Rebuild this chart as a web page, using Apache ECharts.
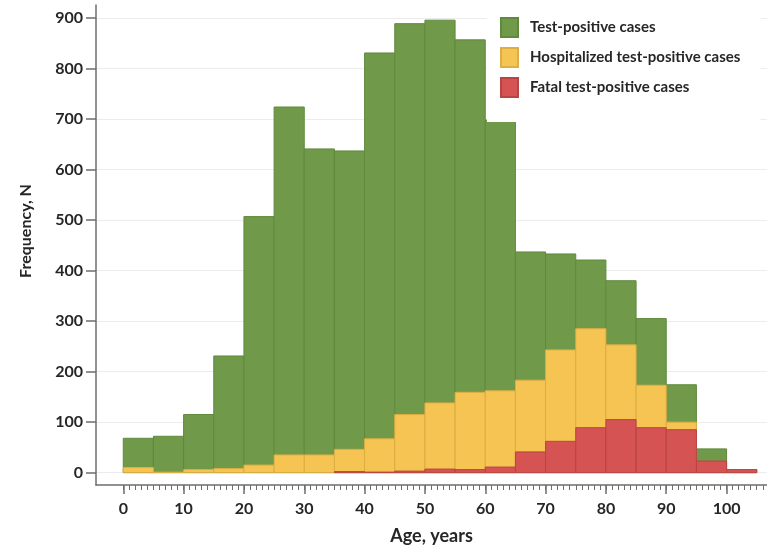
<!DOCTYPE html>
<html>
<head>
<meta charset="utf-8">
<script src="https://cdn.jsdelivr.net/npm/echarts@6/dist/echarts.min.js"></script>
<style>
	html, body { margin: 0; padding: 0; background: #fff; }
	#chart { width: 767px; height: 550px; }
</style>
</head>
<body>
<div id="chart"></div>
<script>
// 5-year age bins, [start, end)
const binStart = [ 0, 5, 10, 15, 20, 25, 30, 35, 40, 45, 50, 55, 60, 65, 70, 75, 80, 85, 90, 95, 100 ];
const binEnd = [ 5, 10, 15, 20, 25, 30, 35, 40, 45, 50, 55, 60, 65, 70, 75, 80, 85, 90, 95, 100, 105 ];

const testPositive = [ 68, 72, 115, 231, 507, 724, 641, 637, 831, 889, 896, 857, 698, 437, 433, 421, 380, 305, 174, 47, 6 ];
const hospitalized = [ 10, 1, 6, 8, 15, 35, 35, 46, 67, 115, 138, 159, 162, 183, 243, 285, 253, 173, 100, 22, 6 ];
const fatal = [ 0, 0, 0, 0, 0, 0, 0, 2, 1, 3, 7, 6, 11, 41, 62, 89, 105, 89, 85, 23, 6 ];

const xTicks = [ 0, 10, 20, 30, 40, 50, 60, 70, 80, 90, 100 ];
const yTicks = [ 0, 100, 200, 300, 400, 500, 600, 700, 800, 900 ];

const FONT = 'Lato, "Open Sans", sans-serif';
const AXIS_COLOR = '#6e6e6e';
const X_MIN = -4.52;
const X_MAX = 106.7;

// minor ticks every year along the age axis
const minorTicks = [];
for ( let a = 0; a <= 106; a++ ) {
	minorTicks.push( a );
}

const toRows = ( values ) => values.map( ( v, i ) => [ binStart[ i ], binEnd[ i ], v ] );

const renderBin = ( params, api ) => {
	// empty bins draw nothing (no stray outline on the baseline)
	if ( !api.value( 2 ) ) {
		return null;
	}
	const top = api.coord( [ api.value( 0 ), api.value( 2 ) ] );
	const bottom = api.coord( [ api.value( 1 ), 0 ] );
	return {
		type: 'rect',
		shape: {
			x: top[ 0 ],
			y: top[ 1 ],
			width: bottom[ 0 ] - top[ 0 ],
			height: bottom[ 1 ] - top[ 1 ]
		},
		style: api.style()
	};
};

const histSeries = ( name, values, color, border ) => ( {
	name,
	type: 'custom',
	renderItem: renderBin,
	encode: { x: [ 0, 1 ], y: 2 },
	itemStyle: { color, borderColor: border, borderWidth: 1 },
	data: toRows( values )
} );

const chart = echarts.init( document.getElementById( 'chart' ), null, { renderer: 'canvas' } );

chart.setOption( {
	animation: false,
	textStyle: { fontFamily: FONT },
	grid: { left: 96, right: 0, top: 5, bottom: 63, containLabel: false },
	legend: {
		orient: 'vertical',
		left: 487,
		top: 7,
		padding: [ 10, 20, 24, 13 ],
		backgroundColor: '#fff',
		itemWidth: 17,
		itemHeight: 19,
		itemGap: 9,
		icon: 'rect',
		textStyle: { fontFamily: FONT, fontSize: 15, fontWeight: 'bold', color: '#262626', padding: [ 0, 0, 0, 7 ] },
		data: [ 'Test-positive cases', 'Hospitalized test-positive cases', 'Fatal test-positive cases' ]
	},
	xAxis: [
		{
			type: 'value',
			position: 'bottom',
			min: X_MIN,
			max: X_MAX,
			name: 'Age, years',
			nameLocation: 'middle',
			nameGap: 42,
			nameTextStyle: { fontFamily: FONT, fontSize: 18, fontWeight: 'bold', color: '#262626' },
			axisLine: { show: true, onZero: false, lineStyle: { color: AXIS_COLOR, width: 1.5 } },
			axisTick: { show: true, length: 9, customValues: xTicks, lineStyle: { color: AXIS_COLOR, width: 1.5 } },
			axisLabel: {
				customValues: xTicks,
				margin: 16,
				fontFamily: FONT,
				fontSize: 16,
				fontWeight: 'bold',
				color: '#262626'
			},
			splitLine: { show: false }
		},
		{
			type: 'value',
			position: 'bottom',
			min: X_MIN,
			max: X_MAX,
			axisLine: { show: false, onZero: false },
			axisTick: { show: true, length: 5, customValues: minorTicks, lineStyle: { color: AXIS_COLOR, width: 1 } },
			axisLabel: { show: false },
			splitLine: { show: false }
		}
	],
	yAxis: {
		type: 'value',
		min: -24.5,
		max: 926,
		name: 'Frequency, N',
		nameLocation: 'middle',
		nameGap: 62,
		nameTextStyle: { fontFamily: FONT, fontSize: 16, fontWeight: 'bold', color: '#262626', padding: [ 0, 0, 0, 28 ] },
		axisLine: { show: true, onZero: false, lineStyle: { color: AXIS_COLOR, width: 1.5 } },
		axisTick: { show: true, length: 10, customValues: yTicks, lineStyle: { color: AXIS_COLOR, width: 1.5 } },
		axisLabel: {
			customValues: yTicks,
			margin: 13,
			fontFamily: FONT,
			fontSize: 16,
			fontWeight: 'bold',
			color: '#262626'
		},
		splitLine: { show: true, lineStyle: { color: '#ececec', width: 1 } }
	},
	series: [
		histSeries( 'Test-positive cases', testPositive, '#71994a', '#5f8a3c' ),
		histSeries( 'Hospitalized test-positive cases', hospitalized, '#f5c452', '#dcae44' ),
		histSeries( 'Fatal test-positive cases', fatal, '#d65353', '#b84444' )
	]
} );
</script>
</body>
</html>
